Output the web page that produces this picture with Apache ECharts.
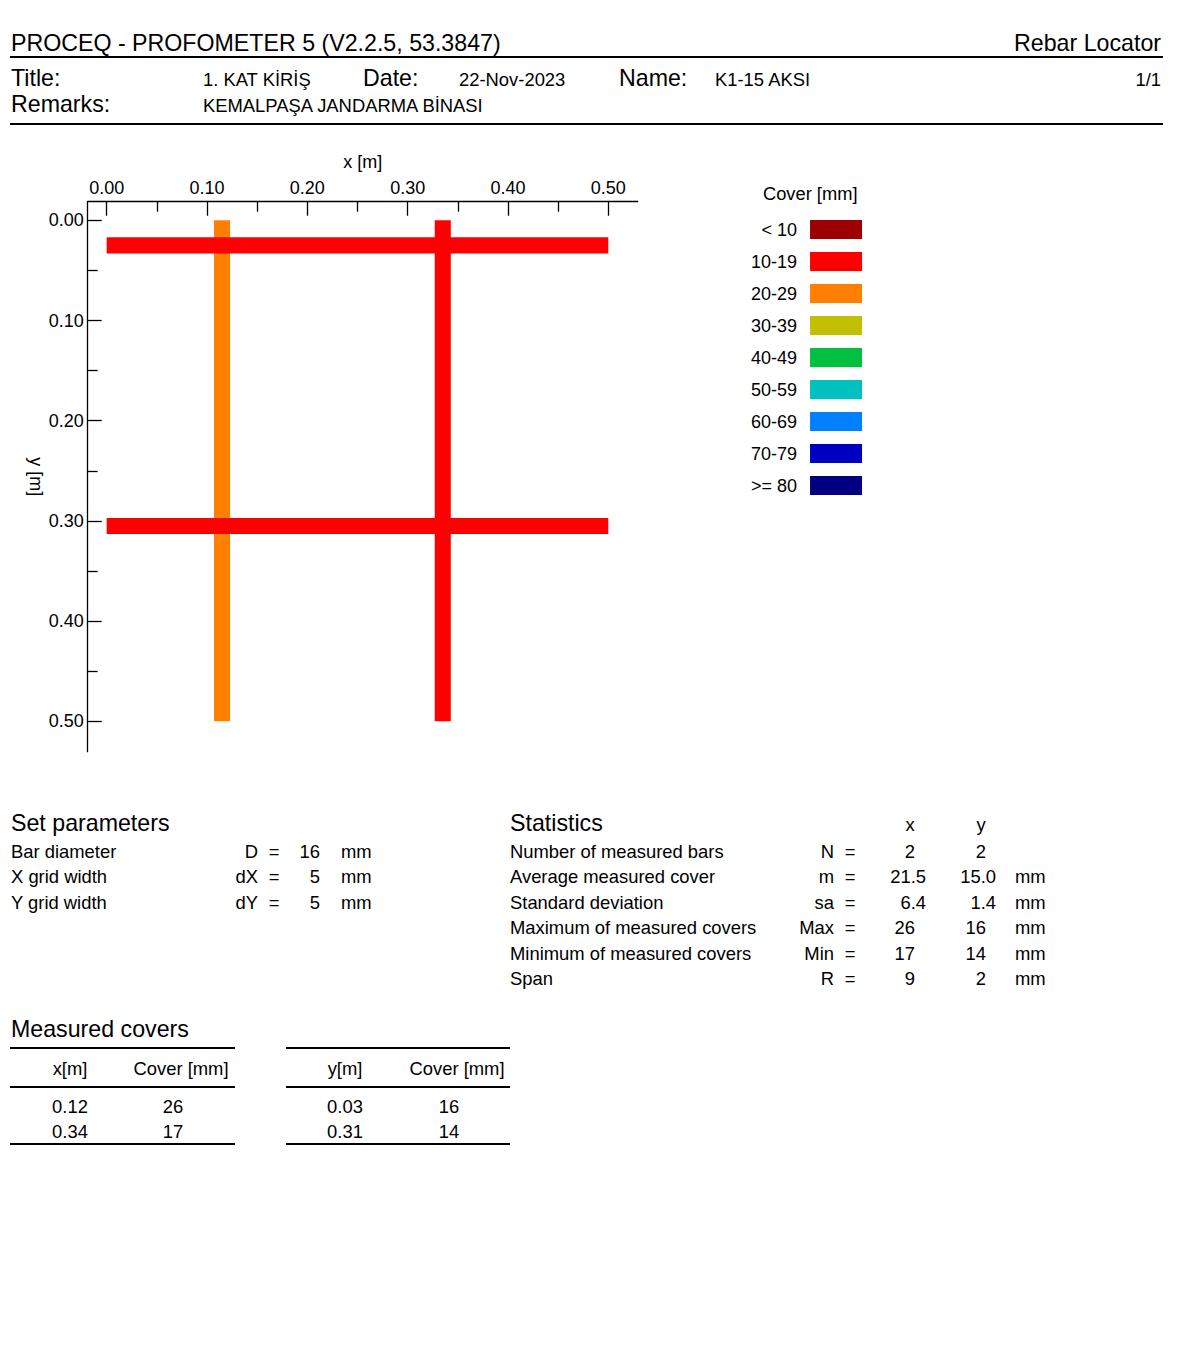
<!DOCTYPE html>
<html>
<head>
<meta charset="utf-8">
<script src="https://cdn.jsdelivr.net/npm/echarts@6/dist/echarts.min.js"></script>
<style>
  html, body { margin: 0; padding: 0; background: #fff; }
  #page { position: relative; width: 1204px; height: 1348px; overflow: hidden; font-family: "Liberation Sans", Arial, sans-serif; color: #000; }
  #chart { position: absolute; left: 0; top: 0; width: 1204px; height: 780px; }
  .t { position: absolute; white-space: nowrap; line-height: 1; }
  .hl { position: absolute; height: 1.4px; background: #000; }
</style>
</head>
<body>
<div id="page">
  <div id="chart"></div>
</div>
<script>
// ---------------- data ----------------
const coverClasses = ['< 10', '10-19', '20-29', '30-39', '40-49', '50-59', '60-69', '70-79', '>= 80'];
const classColors = ['#9C0000', '#FF0000', '#FF8000', '#C0C000', '#00C040', '#00C0C0', '#0080FF', '#0000C0', '#000080'];
const xBarPos = [0.115, 0.335];      // bars running along y, located at x [m]
const xBarCover = [26, 17];          // cover [mm]
const yBarPos = [0.025, 0.305];      // bars running along x, located at y [m]
const yBarCover = [16, 14];          // cover [mm]
const barDiameter = 16;              // mm
const gridDX = 5;                    // mm
const gridDY = 5;                    // mm
const scanXMax = 0.5;                // m
const scanYMax = 0.5;                // m
const majorTicks = [0, 0.1, 0.2, 0.3, 0.4, 0.5];
const minorTicks = [0.05, 0.15, 0.25, 0.35, 0.45];
const headerInfo = {
  device: 'PROCEQ - PROFOMETER 5 (V2.2.5, 53.3847)',
  mode: 'Rebar Locator',
  title: '1. KAT KİRİŞ',
  date: '22-Nov-2023',
  name: 'K1-15 AKSI',
  page: '1/1',
  remarks: 'KEMALPAŞA JANDARMA BİNASI'
};

// ---------------- helpers ----------------
const FONT = '"Liberation Sans", Arial, sans-serif';
const page = document.getElementById('page');
function txt(s, x, base, size, align) {
  const el = document.createElement('div');
  el.className = 't';
  el.textContent = s;
  el.style.fontSize = size + 'px';
  el.style.top = (base + 1 - 0.8465 * size) + 'px';
  if (align === 'right') { el.style.right = (1204 - x) + 'px'; }
  else if (align === 'center') { el.style.left = x + 'px'; el.style.transform = 'translateX(-50%)'; }
  else { el.style.left = x + 'px'; }
  page.appendChild(el);
  return el;
}
function hline(x0, x1, y) {
  const el = document.createElement('div');
  el.className = 'hl';
  el.style.left = x0 + 'px'; el.style.width = (x1 - x0) + 'px'; el.style.top = (y - 0.7) + 'px';
  page.appendChild(el);
}
function round2(v) { return (Math.round(v * 100 + 1e-6) / 100).toFixed(2); }
function classIndex(c) { if (c < 10) return 0; if (c >= 80) return 8; return Math.floor(c / 10); }
function stats(arr) {
  const n = arr.length;
  const m = arr.reduce((a, b) => a + b, 0) / n;
  const sd = n > 1 ? Math.sqrt(arr.reduce((a, b) => a + (b - m) * (b - m), 0) / (n - 1)) : 0;
  const mx = Math.max(...arr), mn = Math.min(...arr);
  return { n, m, sd, mx, mn, r: mx - mn };
}

// ---------------- header ----------------
const BIG = 23.2, SM = 18.4;
txt(headerInfo.device, 11, 51, BIG);
txt(headerInfo.mode, 1161, 51, BIG, 'right');
hline(10, 1163, 57);
txt('Title:', 11, 86, BIG);
txt(headerInfo.title, 203, 86, SM);
txt('Date:', 363, 86, BIG);
txt(headerInfo.date, 459, 86, SM);
txt('Name:', 619, 86, BIG);
txt(headerInfo.name, 715, 86, SM);
txt(headerInfo.page, 1161, 86, SM, 'right');
txt('Remarks:', 11, 112, BIG);
txt(headerInfo.remarks, 203, 112, SM);
hline(10, 1163, 124);

// ---------------- set parameters ----------------
txt('Set parameters', 11, 831, BIG);
const paramRows = [['Bar diameter', 'D', barDiameter], ['X grid width', 'dX', gridDX], ['Y grid width', 'dY', gridDY]];
paramRows.forEach((r, i) => {
  const b = 857.5 + i * 25.5;
  txt(r[0], 11, b, SM);
  txt(r[1], 258, b, SM, 'right');
  txt('=', 274, b, SM, 'center');
  txt(String(r[2]), 320, b, SM, 'right');
  txt('mm', 341, b, SM);
});

// ---------------- statistics ----------------
const sx = stats(xBarCover), sy = stats(yBarCover);
txt('Statistics', 510, 831, BIG);
txt('x', 910, 831, SM, 'center');
txt('y', 981, 831, SM, 'center');
function statVal(s, xInt, xDec, b) {
  txt(s, s.indexOf('.') >= 0 ? xDec : xInt, b, SM, 'right');
}
const statRows = [
  ['Number of measured bars', 'N', String(sx.n), String(sy.n), ''],
  ['Average measured cover', 'm', sx.m.toFixed(1), sy.m.toFixed(1), 'mm'],
  ['Standard deviation', 'sa', sx.sd.toFixed(1), sy.sd.toFixed(1), 'mm'],
  ['Maximum of measured covers', 'Max', String(sx.mx), String(sy.mx), 'mm'],
  ['Minimum of measured covers', 'Min', String(sx.mn), String(sy.mn), 'mm'],
  ['Span', 'R', String(sx.r), String(sy.r), 'mm']
];
statRows.forEach((r, i) => {
  const b = 857.5 + i * 25.5;
  txt(r[0], 510, b, SM);
  txt(r[1], 834, b, SM, 'right');
  txt('=', 850, b, SM, 'center');
  statVal(r[2], 915, 926, b);
  statVal(r[3], 986, 996, b);
  if (r[4]) txt(r[4], 1015, b, SM);
});

// ---------------- measured covers ----------------
txt('Measured covers', 11, 1037, BIG);
function coverTable(x0, x1, posName, c1, c2, pos, cov) {
  hline(x0, x1, 1048);
  txt(posName, c1, 1074.5, SM, 'center');
  txt('Cover [mm]', c2 + 8, 1074.5, SM, 'center');
  hline(x0, x1, 1087);
  pos.forEach((p, i) => {
    const b = 1113 + i * 25;
    txt(round2(p), c1, b, SM, 'center');
    txt(String(cov[i]), c2, b, SM, 'center');
  });
  hline(x0, x1, 1144);
}
coverTable(10, 235, 'x[m]', 70, 173, xBarPos, xBarCover);
coverTable(286, 510, 'y[m]', 345, 449, yBarPos, yBarCover);

// ---------------- chart ----------------
const chart = echarts.init(document.getElementById('chart'), null, { renderer: 'svg' });
const halfD = barDiameter / 1000 / 2;
function renderVertical(params, api) {
  const pos = api.value(0);
  const a = api.coord([pos - halfD, 0]);
  const b = api.coord([pos + halfD, scanYMax]);
  return { type: 'rect', shape: { x: Math.min(a[0], b[0]), y: Math.min(a[1], b[1]), width: Math.abs(b[0] - a[0]), height: Math.abs(b[1] - a[1]) }, style: { fill: api.visual('color') } };
}
function renderHorizontal(params, api) {
  const pos = api.value(0);
  const a = api.coord([0, pos - halfD]);
  const b = api.coord([scanXMax, pos + halfD]);
  return { type: 'rect', shape: { x: Math.min(a[0], b[0]), y: Math.min(a[1], b[1]), width: Math.abs(b[0] - a[0]), height: Math.abs(b[1] - a[1]) }, style: { fill: api.visual('color') } };
}
const series = [];
coverClasses.forEach((name, k) => {
  series.push({
    type: 'custom', name: name, z: 2, coordinateSystem: 'cartesian2d',
    itemStyle: { color: classColors[k] }, renderItem: renderVertical, silent: true,
    encode: { x: 0, y: -1 },
    data: xBarPos.map((p, i) => [p, xBarCover[i]]).filter(d => classIndex(d[1]) === k)
  });
  series.push({
    type: 'custom', name: name, z: 3, coordinateSystem: 'cartesian2d',
    itemStyle: { color: classColors[k] }, renderItem: renderHorizontal, silent: true,
    encode: { y: 0, x: -1 },
    data: yBarPos.map((p, i) => [p, yBarCover[i]]).filter(d => classIndex(d[1]) === k)
  });
});

const xMin = -0.0189, xMax = 0.5293, yMin = -0.0186, yMax = 0.5303;
const lineSt = { color: '#000', width: 1.3 };
const lbl = { fontSize: 18, color: '#000', fontFamily: FONT };
chart.setOption({
  animation: false,
  textStyle: { fontFamily: FONT },
  grid: { left: 87.7, top: 201.7, width: 550, height: 550, containLabel: false },
  title: { text: 'Cover [mm]', left: 763, top: 184, padding: 0, textStyle: { fontSize: 18.3, fontWeight: 'normal', color: '#000', fontFamily: FONT } },
  legend: {
    orient: 'vertical', align: 'right', left: 751, top: 220, padding: 0,
    itemWidth: 52, itemHeight: 19, itemGap: 13, icon: 'rect', selectedMode: false,
    data: coverClasses,
    textStyle: { fontSize: 18, color: '#000', fontFamily: FONT, width: 46, align: 'right', lineHeight: 19, padding: [0, 8, 0, 0] }
  },
  xAxis: [
    {
      type: 'value', position: 'top', min: xMin, max: xMax,
      name: 'x [m]', nameLocation: 'middle', nameGap: 31, nameTextStyle: lbl,
      axisLine: { show: true, onZero: false, lineStyle: lineSt },
      axisTick: { show: true, inside: true, length: 14, customValues: majorTicks, lineStyle: lineSt },
      axisLabel: { show: true, customValues: majorTicks, formatter: v => v.toFixed(2), margin: 5, ...lbl },
      splitLine: { show: false }
    },
    {
      type: 'value', position: 'top', min: xMin, max: xMax,
      axisLine: { show: false, onZero: false },
      axisTick: { show: true, inside: true, length: 10, customValues: minorTicks, lineStyle: lineSt },
      axisLabel: { show: false },
      splitLine: { show: false }
    }
  ],
  yAxis: [
    {
      type: 'value', position: 'left', inverse: true, min: yMin, max: yMax,
      name: 'y [m]', nameLocation: 'middle', nameGap: 34, nameRotate: -90, nameTextStyle: lbl,
      axisLine: { show: true, onZero: false, lineStyle: lineSt },
      axisTick: { show: true, inside: true, length: 14, customValues: majorTicks, lineStyle: lineSt },
      axisLabel: { show: true, customValues: majorTicks, formatter: v => v.toFixed(2), margin: 4, ...lbl },
      splitLine: { show: false }
    },
    {
      type: 'value', position: 'left', inverse: true, min: yMin, max: yMax,
      axisLine: { show: false, onZero: false },
      axisTick: { show: true, inside: true, length: 10, customValues: minorTicks, lineStyle: lineSt },
      axisLabel: { show: false },
      splitLine: { show: false }
    }
  ],
  series: series
});
</script>
</body>
</html>
